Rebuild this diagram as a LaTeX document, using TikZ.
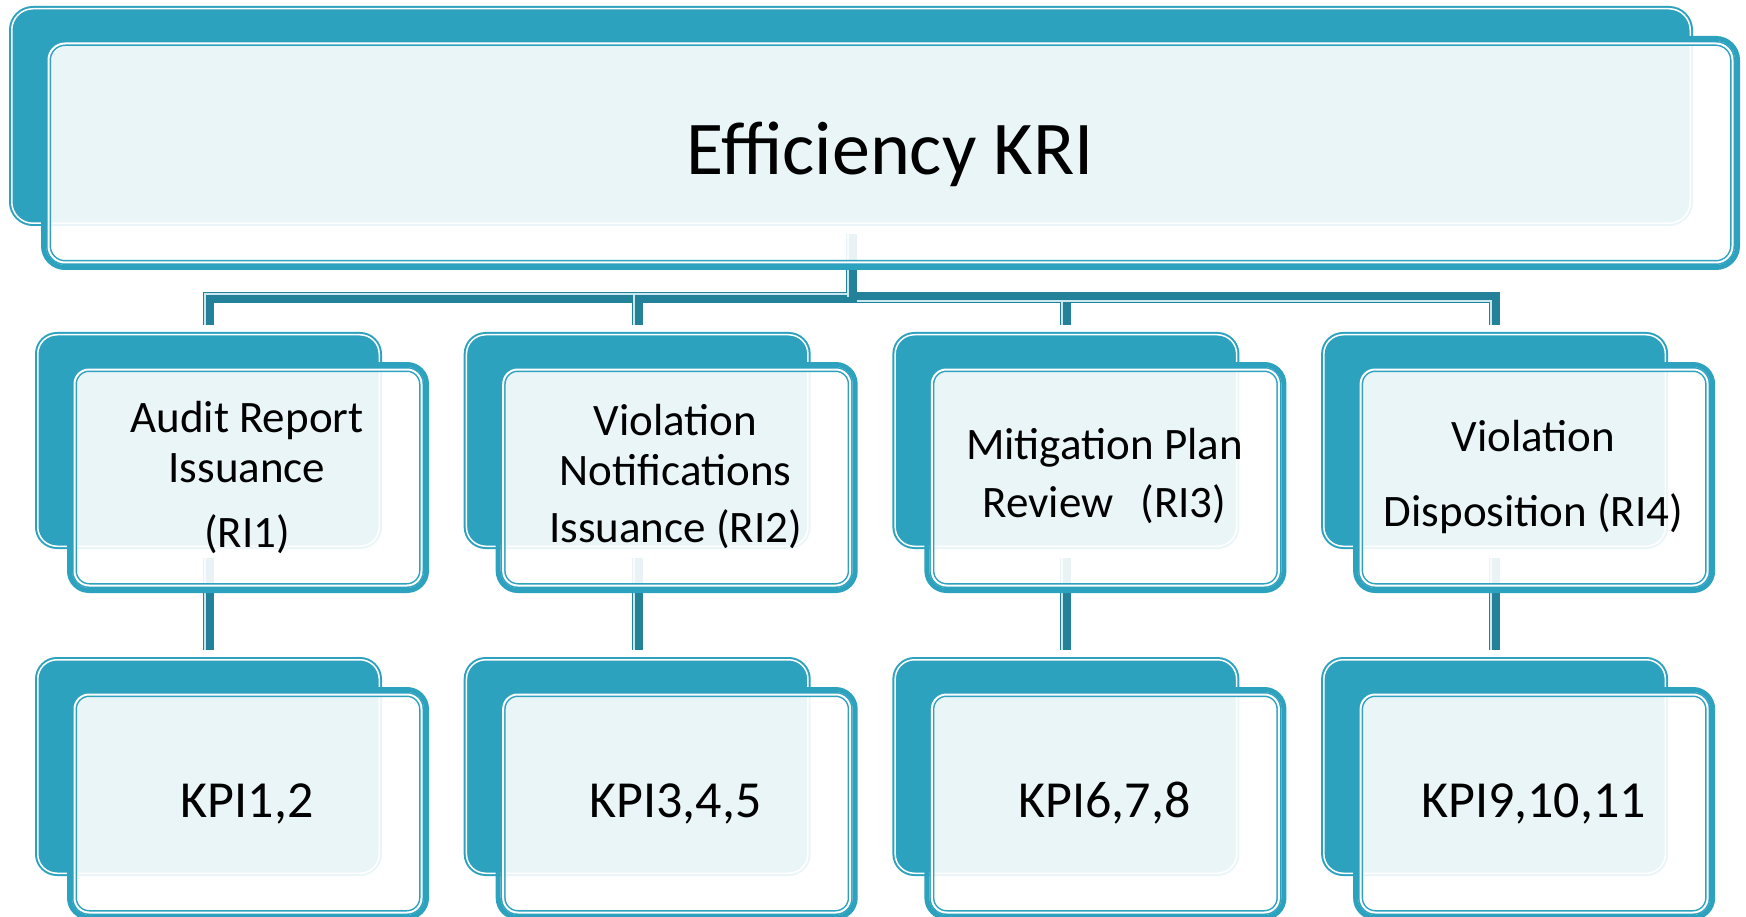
\documentclass[tikz,border=0pt]{standalone}
\usepackage{fontspec}
\setmainfont{Carlito}
\usetikzlibrary{calc}
\definecolor{kteal}{HTML}{2DA2BF}
\definecolor{kdark}{HTML}{23829A}
\definecolor{klight}{HTML}{CBE7EF}
\pgfdeclarelayer{bg}
\pgfdeclarelayer{mid}
\pgfsetlayers{bg,mid,main}
\tikzset{
  backbox/.style={rectangle, inner sep=0pt, outer sep=0pt, fill=kteal, draw=kteal, double=white, double distance=1.5pt, line width=2pt},
  frontframe/.style={rectangle, inner sep=0pt, outer sep=0pt, draw=kteal, line width=5pt},
  frontbox/.style={rectangle, inner sep=0pt, outer sep=0pt, fill=white, fill opacity=0.9, text opacity=1, draw=kteal, double=white, double distance=2pt, line width=1.5pt},
  conn/.style={draw=kdark, line width=11pt, line join=miter},
  connl/.style={draw=klight, line width=2pt},
  lbl/.style={anchor=base, inner sep=0pt, text=black, font=\fontsize{45}{54}\selectfont},
  kpi/.style={anchor=base, inner sep=0pt, text=black, font=\fontsize{52}{60}\selectfont},
  ttl/.style={anchor=base, inner sep=0pt, text=black, font=\fontsize{76}{90}\selectfont},
}
\newcommand{\kbox}[6]{%
  \pgfmathsetmacro{\kbw}{#4-#2-5.5}%
  \pgfmathsetmacro{\kbh}{#5-#3-5.5}%
  \pgfmathsetmacro{\kbx}{(#2+#4)/2}%
  \pgfmathsetmacro{\kby}{(#3+#5)/2}%
  \pgfmathsetmacro{\kbr}{#6-2.75}%
  \pgfmathsetmacro{\kfx}{(#2+32+#4+47)/2}%
  \pgfmathsetmacro{\kfy}{(#3+30+#5+44)/2}%
  \pgfmathsetmacro{\kow}{#4+47-#2-32-5}%
  \pgfmathsetmacro{\koh}{#5+44-#3-30-5}%
  \pgfmathsetmacro{\kor}{#6-2.5}%
  \pgfmathsetmacro{\kiw}{#4+47-#2-32-15}%
  \pgfmathsetmacro{\kih}{#5+44-#3-30-15}%
  \pgfmathsetmacro{\kir}{#6-7.5}%
  \begin{pgfonlayer}{bg}
    \node[backbox, minimum width=\kbw pt, minimum height=\kbh pt, rounded corners=\kbr pt] (#1b) at (\kbx,\kby) {};
  \end{pgfonlayer}
  \node[frontframe, minimum width=\kow pt, minimum height=\koh pt, rounded corners=\kor pt] (#1o) at (\kfx,\kfy) {};
  \node[frontbox, minimum width=\kiw pt, minimum height=\kih pt, rounded corners=\kir pt] (#1) at (\kfx,\kfy) {};
}
\begin{document}
\begin{tikzpicture}[x=1pt,y=-1pt]
\useasboundingbox (0,0) rectangle (1746,917);
\begin{pgfonlayer}{bg}
  \fill[white] (0,0) rectangle (1746,917);
\end{pgfonlayer}

% boxes
\kbox{top}{9}{6}{1693}{226}{24}
\kbox{ra}{35}{332}{382}{549}{22}
\kbox{rb}{463.7}{332}{810.7}{549}{22}
\kbox{rc}{892.4}{332}{1239.4}{549}{22}
\kbox{rd}{1321.1}{332}{1668.1}{549}{22}
\kbox{ka}{35}{657}{382}{876}{22}
\kbox{kb}{463.7}{657}{810.7}{876}{22}
\kbox{kc}{892.4}{657}{1239.4}{876}{22}
\kbox{kd}{1321.1}{657}{1668.1}{876}{22}

\coordinate (jn) at ([shift={(0,74)}]topb.south);

% connectors
\begin{pgfonlayer}{mid}
  \draw[conn] ([shift={(0,11)}]topb.south) -- (jn);
  \draw[conn] (jn) -| ([shift={(0,-10)}]rab.north);
  \draw[conn] (jn) -| ([shift={(0,-10)}]rbb.north);
  \draw[conn] (jn) -| ([shift={(0,-10)}]rcb.north);
  \draw[conn] (jn) -| ([shift={(0,-10)}]rdb.north);
  \draw[connl] ([shift={(-3.5,11)}]topb.south) -- ([shift={(-3.5,0)}]jn);
  \draw[connl] ([shift={(-4.5,-3.5)}]jn) -| ([shift={(-3.5,-10)}]rab.north);
  \draw[connl] ([shift={(-4.5,-3.5)}]jn) -| ([shift={(-3.5,-10)}]rbb.north);
  \draw[connl] ([shift={(5.5,3.5)}]jn) -| ([shift={(-3.5,-10)}]rcb.north);
  \draw[connl] ([shift={(5.5,3.5)}]jn) -| ([shift={(-3.5,-10)}]rdb.north);
  \draw[conn] ([shift={(0,12)}]rab.south) -- ([shift={(0,-10)}]kab.north);
  \draw[conn] ([shift={(0,12)}]rbb.south) -- ([shift={(0,-10)}]kbb.north);
  \draw[conn] ([shift={(0,12)}]rcb.south) -- ([shift={(0,-10)}]kcb.north);
  \draw[conn] ([shift={(0,12)}]rdb.south) -- ([shift={(0,-10)}]kdb.north);
  \draw[connl] ([shift={(-3.5,12)}]rab.south) -- ([shift={(-3.5,-10)}]kab.north);
  \draw[connl] ([shift={(-3.5,12)}]rbb.south) -- ([shift={(-3.5,-10)}]kbb.north);
  \draw[connl] ([shift={(-3.5,12)}]rcb.south) -- ([shift={(-3.5,-10)}]kcb.north);
  \draw[connl] ([shift={(-3.5,12)}]rdb.south) -- ([shift={(-3.5,-10)}]kdb.north);
\end{pgfonlayer}

% texts
\node[ttl] (tt) at (890,175) {Efficiency KRI};
\node[lbl] (ra1) at (247,432) {Audit Report};
\node[lbl] (ra2) at (247,482) {Issuance};
\node[lbl] (ra3) at (247,547) {(RI1)};
\node[lbl] (rb1) at (675.5,435) {Violation};
\node[lbl] (rb2) at (675.5,485) {Notifications};
\node[lbl] (rb3) at (675.5,542) {Issuance (RI2)};
\node[lbl] (rc1) at (1104.5,459) {Mitigation Plan};
\node[lbl] (rc2) at (1104.5,517) {Review\hspace{27pt}(RI3)};
\node[lbl] (rd1) at (1533.5,451) {Violation};
\node[lbl] (rd2) at (1533.5,526) {Disposition (RI4)};
\node[kpi] (ka1) at (247,817) {KPI1,2};
\node[kpi] (kb1) at (675.5,817) {KPI3,4,5};
\node[kpi] (kc1) at (1104.5,817) {KPI6,7,8};
\node[kpi] (kd1) at (1533.5,817) {KPI9,10,11};
\end{tikzpicture}
\end{document}
